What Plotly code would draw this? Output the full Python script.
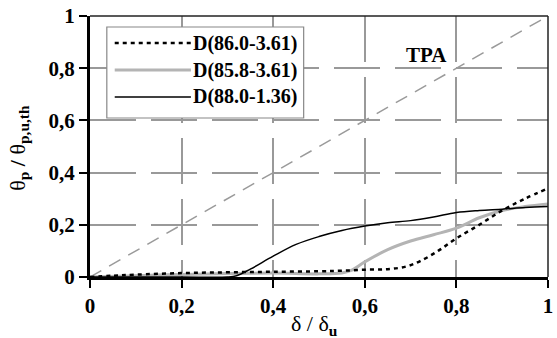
import plotly.graph_objects as go

# ---- data ----
x_d86 = [0, 0.05, 0.1, 0.2, 0.3, 0.4, 0.5, 0.55, 0.6, 0.65, 0.69, 0.72, 0.76, 0.8, 0.85, 0.9, 0.95, 1.0]
y_d86 = [0, 0.005, 0.009, 0.015, 0.018, 0.02, 0.022, 0.024, 0.028, 0.03, 0.04, 0.06, 0.1, 0.148, 0.2, 0.255, 0.3, 0.34]

x_d858 = [0, 0.1, 0.2, 0.3, 0.4, 0.5, 0.55, 0.57, 0.6, 0.65, 0.7, 0.75, 0.8, 0.85, 0.9, 0.95, 1.0]
y_d858 = [0, 0.005, 0.01, 0.013, 0.015, 0.012, 0.015, 0.025, 0.058, 0.105, 0.138, 0.162, 0.187, 0.227, 0.255, 0.27, 0.28]

x_d88 = [0, 0.1, 0.2, 0.3, 0.32, 0.35, 0.4, 0.45, 0.5, 0.55, 0.6, 0.65, 0.7, 0.75, 0.8, 0.85, 0.9, 0.95, 1.0]
y_d88 = [0, 0, 0, 0, 0.005, 0.03, 0.08, 0.125, 0.155, 0.178, 0.195, 0.208, 0.216, 0.23, 0.247, 0.255, 0.26, 0.266, 0.27]

x_diag = [0, 1]
y_diag = [0, 1]

names = ["D(86.0-3.61)", "D(85.8-3.61)", "D(88.0-1.36)"]
tick_vals = [0, 0.2, 0.4, 0.6, 0.8, 1]
tick_text = ["<b>0</b>", "<b>0,2</b>", "<b>0,4</b>", "<b>0,6</b>", "<b>0,8</b>", "<b>1</b>"]

FONT = "'Liberation Serif', 'Times New Roman', serif"
W, H = 557, 338
ML, MR, MT, MB = 90, 4, 16, 61
PW, PH = W - ML - MR, H - MT - MB

def px_x(p):
    return (p - ML) / PW

def px_y(p):
    return (H - MB - p) / PH

fig = go.Figure()
fig.add_trace(go.Scatter(x=x_diag, y=y_diag, mode="lines",
                         line=dict(color="#9a9a9a", width=1.5, dash="13px,9px"),
                         showlegend=False, hoverinfo="skip"))
fig.add_trace(go.Scatter(x=x_d858, y=y_d858, mode="lines", name=names[1],
                         line=dict(color="#b4b4b4", width=3, shape="spline"), showlegend=False))
fig.add_trace(go.Scatter(x=x_d88, y=y_d88, mode="lines", name=names[2],
                         line=dict(color="black", width=1.5, shape="spline"), showlegend=False))
fig.add_trace(go.Scatter(x=x_d86, y=y_d86, mode="lines", name=names[0],
                         line=dict(color="black", width=2.5, dash="4px,4px", shape="spline"), showlegend=False))

axis_common = dict(
    range=[0, 1], tickvals=tick_vals, ticktext=tick_text,
    showline=True, linecolor="black", linewidth=3,
    ticks="outside", ticklen=8, tickwidth=1.5, tickcolor="black",
    showgrid=True, gridcolor="#999999", gridwidth=1.5, griddash="46px,15px",
    zeroline=False, ticklabeloverflow="allow",
    tickfont=dict(family=FONT, size=21, color="black"),
)

fig.update_xaxes(**axis_common)
fig.update_yaxes(**axis_common)

shapes = []
# top and right frame
shapes.append(dict(type="line", xref="paper", yref="paper", x0=0, x1=1, y0=1, y1=1,
                   line=dict(color="#222", width=1.5), layer="above"))
shapes.append(dict(type="line", xref="paper", yref="paper", x0=1, x1=1, y0=0, y1=1,
                   line=dict(color="#222", width=1.5), layer="above"))
# custom legend
shapes.append(dict(type="rect", xref="paper", yref="paper",
                   x0=px_x(107), x1=px_x(306), y0=px_y(118), y1=px_y(27),
                   fillcolor="white", line=dict(color="#888", width=1.2), layer="above"))
rows = [43, 70, 97]
styles = [dict(color="black", width=2.5, dash="4px,4px"),
          dict(color="#b4b4b4", width=3),
          dict(color="black", width=1.5)]
annotations = []
for r, st, nm in zip(rows, styles, names):
    shapes.append(dict(type="line", xref="paper", yref="paper",
                       x0=px_x(115), x1=px_x(192), y0=px_y(r), y1=px_y(r),
                       line=st, layer="above"))
    annotations.append(dict(xref="paper", yref="paper", x=px_x(192), y=px_y(r),
                            xanchor="left", yanchor="middle", showarrow=False,
                            text="<b>" + nm + "</b>",
                            font=dict(family=FONT, size=20, color="black")))

annotations.append(dict(xref="x", yref="y", x=0.735, y=0.85, showarrow=False, text="<b>TPA</b>",
                        font=dict(family=FONT, size=21, color="black")))
# axis titles
annotations.append(dict(xref="paper", yref="paper", x=px_x(317), y=px_y(325),
                        xanchor="center", yanchor="middle", showarrow=False,
                        text="δ / δ<sub><b>u</b></sub>",
                        font=dict(family=FONT, size=22, color="black")))
annotations.append(dict(xref="paper", yref="paper", x=px_x(18), y=px_y(148),
                        xanchor="center", yanchor="middle", showarrow=False, textangle=-90,
                        text="θ<sub><b>p</b></sub> <b>/</b> θ<sub><b>p,u,th</b></sub>",
                        font=dict(family=FONT, size=22, color="black")))

fig.update_layout(
    width=W, height=H,
    margin=dict(l=ML, r=MR, t=MT, b=MB),
    paper_bgcolor="white", plot_bgcolor="white",
    shapes=shapes, annotations=annotations,
    showlegend=False,
    font=dict(family=FONT),
)

fig.write_html("out.html")
